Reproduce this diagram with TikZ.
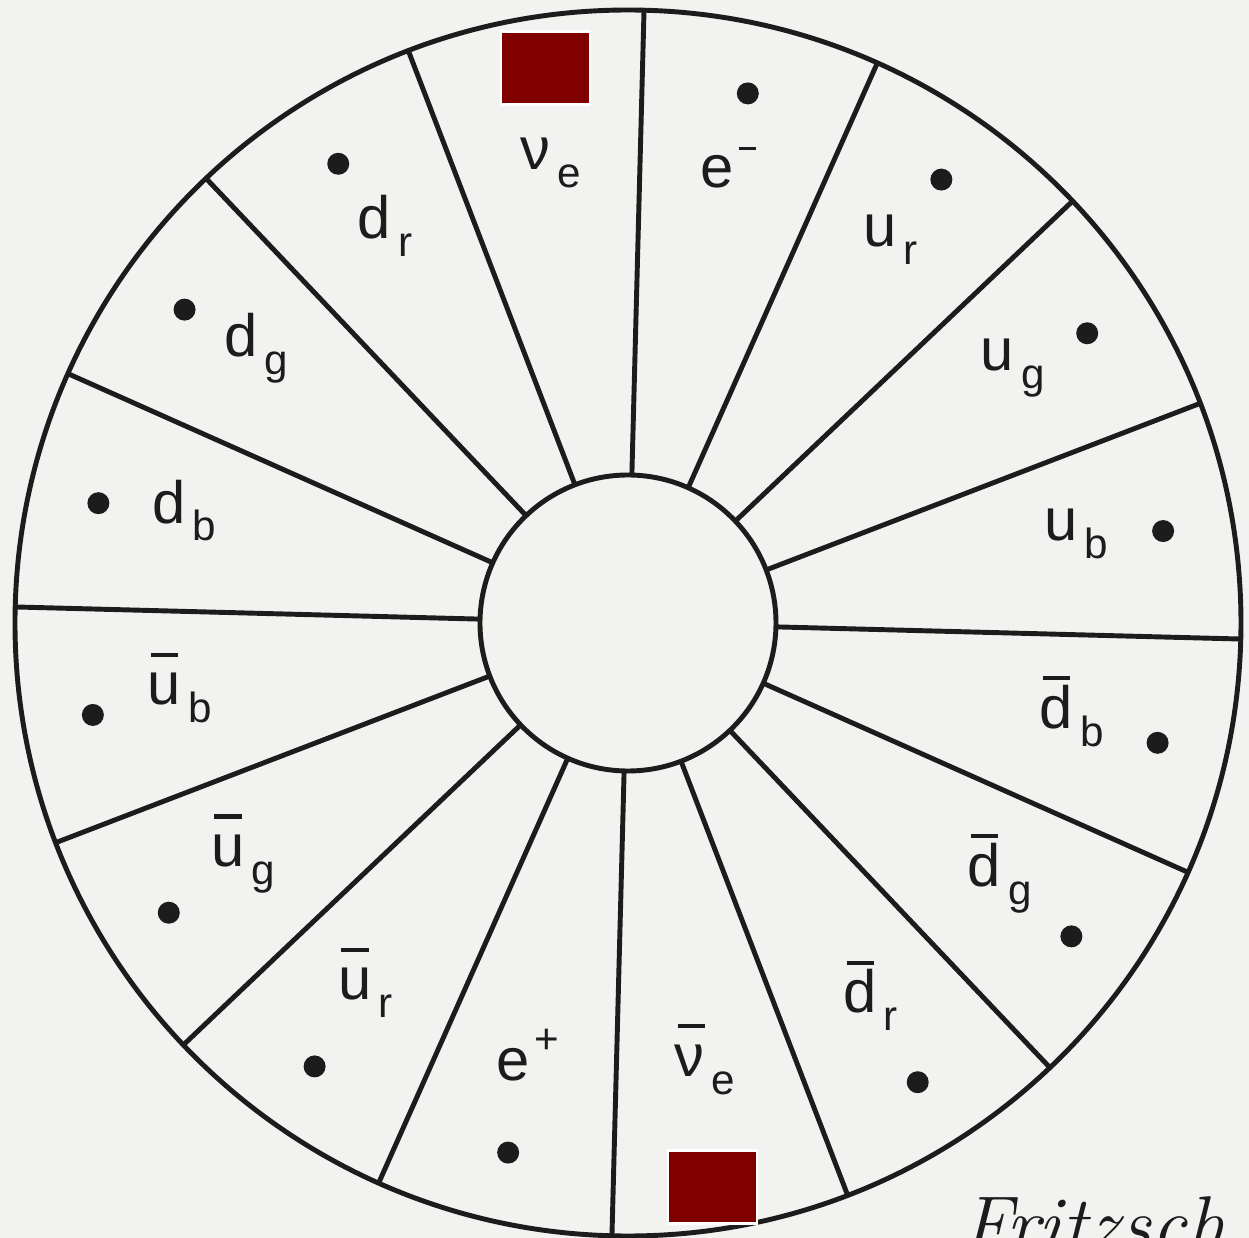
\documentclass[tikz,border=0pt]{standalone}
\usepackage{xcolor}
\usepackage{fontspec}
\usepackage{tikz}
\newfontfamily\partfont{Liberation Sans}
\definecolor{fzred}{RGB}{128,0,0}
\definecolor{fzpaper}{RGB}{242,242,240}
\definecolor{fzink}{RGB}{28,28,28}

\newcommand{\psub}[2]{#1\hspace{0.12em}\raisebox{-0.3em}{\fontsize{12}{12}\selectfont #2}}
\newcommand{\psup}[2]{#1\hspace{0.08em}\raisebox{0.45em}{\fontsize{12}{12}\selectfont #2}}
\newcommand{\pbar}[1]{\makebox[0pt][l]{\hspace{0.05em}\raisebox{0.8em}{\rule{0.46em}{0.07em}}}#1}

\begin{document}
\begin{tikzpicture}[
    spoke/.style={draw=fzink, line width=1.4pt},
    part/.style={font=\partfont\fontsize{17}{19}\selectfont, text=fzink, inner sep=0pt},
    redbox/.style={draw=white, line width=0.6pt, fill=fzred,
                   minimum width=0.89cm, minimum height=0.73cm, inner sep=0pt}
]
    \useasboundingbox (-6.28,-6.15) rectangle (6.21,6.23);
    \fill[fzpaper] (-6.28,-6.15) rectangle (6.21,6.23);

    \draw[spoke] (0,0) circle (6.13);
    \draw[spoke] (0,0) circle (1.48);
    \foreach \s in {0,...,15}
        \draw[spoke] ({88.5-22.5*\s}:1.48) -- ({88.5-22.5*\s}:6.13);

    \foreach \k/\lab in {
        1/{\psup{e}{\rule[0.25em]{0.4em}{0.08em}}},
        2/{\psub{u}{r}}, 3/{\psub{u}{g}}, 4/{\psub{u}{b}},
        5/{\psub{\pbar{d}}{b}}, 6/{\psub{\pbar{d}}{g}}, 7/{\psub{\pbar{d}}{r}},
        8/{\psub{\pbar{ν}}{e}}, 9/{\psup{e}{+}},
        10/{\psub{\pbar{u}}{r}}, 11/{\psub{\pbar{u}}{g}}, 12/{\psub{\pbar{u}}{b}},
        13/{\psub{d}{b}}, 14/{\psub{d}{g}}, 15/{\psub{d}{r}},
        16/{\psub{ν}{e}}}
    {
        \pgfmathsetmacro{\a}{99.75-22.5*\k}
        % the neutrino dots lie under the red boxes
        \ifnum\k=8\else\ifnum\k=16\else
            \fill[fzink] (\a:5.43) circle (0.11);
        \fi\fi
        \node[part] (part\k) at ([yshift=0.12cm]\a:4.55) {\lab};
    }

    \node[redbox] (hideTop) at (-0.825,5.55) {};
    \node[redbox] (hideBottom) at (0.845,-5.64) {};

    \begin{scope}
        \clip (-6.28,-6.15) rectangle (6.21,6.23);
        \node[anchor=base west, inner sep=0pt, text=fzink,
              font=\itshape\fontsize{22.5}{25}\selectfont] (author) at (3.33,-6.29) {Fritzsch};
    \end{scope}
\end{tikzpicture}
\end{document}
